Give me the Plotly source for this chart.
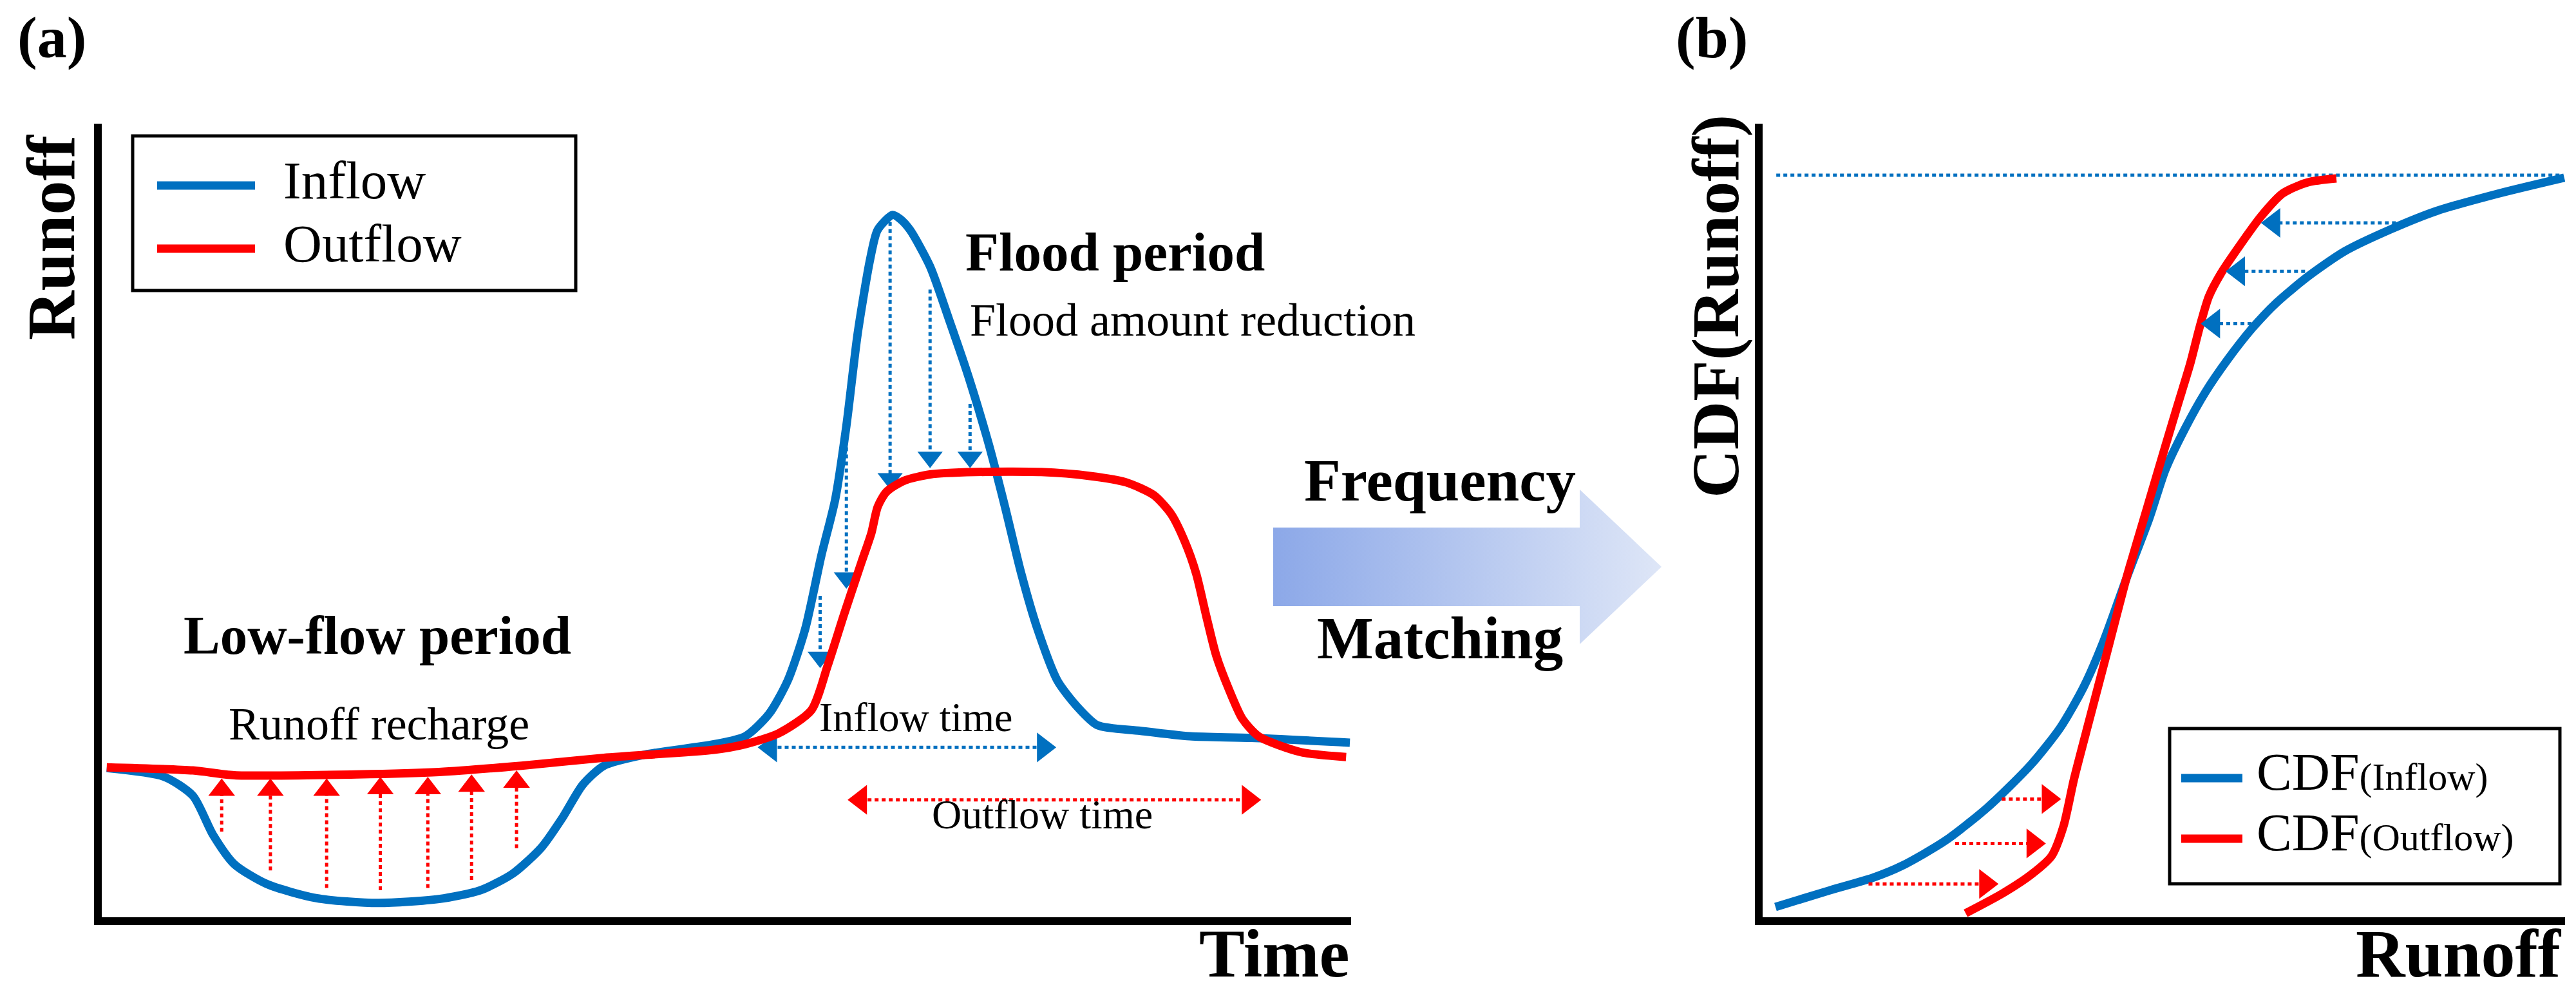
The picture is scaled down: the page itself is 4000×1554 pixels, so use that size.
import math
import plotly.graph_objects as go

W, H = 4000, 1554
BLUE = "#0070C0"
RED = "#FF0000"
FONT = "Liberation Serif"

# ---------------- Panel (a): hydrograph (time 0-100, runoff 0-100) ----------------
inflow_t = [0.4, 5.0, 7.3, 8.9, 10.6, 13.2, 17.2, 22.1, 27.0, 30.3, 32.9, 35.2, 36.9, 38.5, 40.2,
            43.5, 49.0, 51.5, 53.4, 54.9, 56.3, 57.6, 58.7, 59.6, 60.5, 61.5, 62.1, 63.3, 63.9,
            64.7, 66.3, 67.8, 69.4, 71.0, 72.3, 73.6, 74.9, 76.5, 78.1, 79.7, 83.1, 87.1, 92.0,
            99.9]
inflow_q = [18.8, 17.7, 15.3, 10.4, 6.7, 4.2, 2.4, 1.8, 2.3, 3.4, 5.5, 8.8, 12.6, 16.7, 19.1,
            20.5, 21.8, 22.8, 25.6, 29.8, 36.3, 45.6, 52.6, 61.9, 73.5, 82.9, 86.6, 88.5, 88.0,
            86.6, 82.0, 75.4, 68.0, 59.6, 51.7, 43.3, 36.3, 29.8, 26.5, 24.2, 23.5, 22.8, 22.6,
            22.0]

outflow_t = [0.4, 7.3, 10.6, 20.4, 27.0, 33.6, 40.2, 49.0, 51.5, 54.2, 56.8, 58.1, 59.4, 60.8,
             61.6, 62.1, 62.8, 64.2, 66.3, 69.9, 75.2, 79.1, 82.0, 84.2, 85.6, 86.7, 87.6, 88.4,
             89.2, 90.2, 91.3, 92.6, 96.0, 99.6]
outflow_q = [18.9, 18.5, 17.9, 18.0, 18.3, 19.1, 20.1, 21.1, 21.8, 23.2, 26.1, 31.7, 38.1, 44.7,
             48.4, 51.7, 53.6, 55.0, 55.8, 56.1, 56.1, 55.6, 54.8, 53.2, 50.8, 47.3, 43.3, 38.0,
             33.0, 28.8, 25.0, 22.8, 20.8, 20.2]

# runoff recharge arrows (upward, red)
recharge_t = [9.6, 13.5, 18.0, 22.3, 26.1, 29.6, 33.2]
recharge_from = [10.8, 5.9, 3.7, 3.4, 3.7, 4.7, 8.7]
recharge_to = [17.5, 17.5, 17.5, 17.7, 17.7, 18.0, 18.5]

# flood amount reduction arrows (downward, blue)
reduction_t = [57.5, 59.6, 63.1, 66.3, 69.5]
reduction_from = [40.5, 60.1, 87.6, 79.1, 64.7]
reduction_to = [31.4, 41.4, 53.9, 56.6, 56.6]

# duration arrows
inflow_time = {"q": 21.4, "t0": 52.5, "t1": 76.4}
outflow_time = {"q": 14.8, "t0": 59.7, "t1": 92.8}

# ---------------- Panel (b): CDF (runoff 0-100, cdf 0-1) ----------------
cdf_in_x = [1.6, 8.4, 13.8, 17.4, 22.7, 28.1, 33.5, 37.1, 40.0, 42.5, 45.3, 48.2, 50.2, 52.6,
            55.2, 57.9, 61.0, 64.0, 67.9, 72.5, 78.3, 84.0, 91.7, 99.9]
cdf_in_y = [0.013, 0.034, 0.050, 0.065, 0.096, 0.139, 0.193, 0.239, 0.290, 0.348, 0.426, 0.503,
            0.564, 0.615, 0.662, 0.702, 0.742, 0.774, 0.807, 0.839, 0.867, 0.890, 0.912, 0.932]
cdf_out_x = [25.3, 29.9, 33.5, 36.0, 37.5, 38.8, 40.7, 42.8, 45.3, 47.8, 50.2, 51.8, 53.3, 54.5,
             55.6, 57.1, 59.5, 62.1, 64.8, 67.9, 71.5]
cdf_out_y = [0.005, 0.030, 0.054, 0.077, 0.115, 0.174, 0.248, 0.329, 0.426, 0.512, 0.594, 0.648,
             0.698, 0.745, 0.782, 0.811, 0.847, 0.883, 0.912, 0.926, 0.931]
cdf_top = {"y": 0.935, "x0": 1.7, "x1": 99.5}

match_down_y = [0.875, 0.814, 0.748]
match_down_from = [79.8, 67.6, 61.8]
match_down_to = [62.1, 57.7, 54.6]
match_up_y = [0.149, 0.093, 0.042]
match_up_from = [29.8, 24.0, 13.2]
match_up_to = [37.2, 35.3, 29.4]

# ---------------- layout geometry (pixels) ----------------
A_X = (150, 2090)
B_X = (2729, 3975)
Y_PX = (1416, 184)  # bottom, top

def dom_x(a, b):
    return [a / W, b / W]

def dom_y(bottom, top):
    return [1 - bottom / H, 1 - top / H]

def px(x):
    return x / W

def py(y):
    return 1 - y / H

# pixels per data unit
SA_X = (A_X[1] - A_X[0]) / 100.0
SA_Y = (Y_PX[0] - Y_PX[1]) / 100.0
SB_X = (B_X[1] - B_X[0]) / 100.0
SB_Y = (Y_PX[0] - Y_PX[1]) / 1.0

fig = go.Figure()

def line(x, y, color, xa, ya, width=13, dash="solid", shape="spline"):
    ln = dict(color=color, width=width, dash=dash, shape=shape)
    if shape == "spline":
        ln["smoothing"] = 0.7
    fig.add_trace(go.Scatter(x=x, y=y, mode="lines", xaxis=xa, yaxis=ya, line=ln,
                             hoverinfo="skip", showlegend=False))

def head(xt, yt, ux, uy, color, xa, ya, sx, sy, size):
    r = size / 2.0
    cx = xt - ux * r / sx
    cy = yt - uy * r / sy
    if abs(ux) > abs(uy):
        sym = "triangle-right" if ux > 0 else "triangle-left"
    else:
        sym = "triangle-up" if uy > 0 else "triangle-down"
    fig.add_trace(go.Scatter(x=[cx], y=[cy], mode="markers", xaxis=xa, yaxis=ya,
                             marker=dict(symbol=sym, size=size, color=color, line=dict(width=0)),
                             cliponaxis=False, hoverinfo="skip", showlegend=False))
    return cx, cy

def arrow(x0, y0, x1, y1, color, xa, ya, sx, sy, size, both=False, dash="6px,5px", width=5):
    dxp = (x1 - x0) * sx
    dyp = (y1 - y0) * sy
    L = math.hypot(dxp, dyp)
    ux, uy = dxp / L, dyp / L
    cx1, cy1 = head(x1, y1, ux, uy, color, xa, ya, sx, sy, size)
    sx0, sy0 = x0, y0
    if both:
        sx0, sy0 = head(x0, y0, -ux, -uy, color, xa, ya, sx, sy, size)
    line([sx0, cx1], [sy0, cy1], color, xa, ya, width=width, dash=dash, shape="linear")

# ---- panel (a)
for t, f, to in zip(recharge_t, recharge_from, recharge_to):
    arrow(t, f, t, to, RED, "x", "y", SA_X, SA_Y, 36)
for t, f, to in zip(reduction_t, reduction_from, reduction_to):
    arrow(t, f, t, to, BLUE, "x", "y", SA_X, SA_Y, 34)
arrow(inflow_time["t0"], inflow_time["q"], inflow_time["t1"], inflow_time["q"], BLUE,
      "x", "y", SA_X, SA_Y, 40, both=True)
arrow(outflow_time["t0"], outflow_time["q"], outflow_time["t1"], outflow_time["q"], RED,
      "x", "y", SA_X, SA_Y, 40, both=True)
line(inflow_t, inflow_q, BLUE, "x", "y")
line(outflow_t, outflow_q, RED, "x", "y")

# ---- panel (b)
line([cdf_top["x0"], cdf_top["x1"]], [cdf_top["y"], cdf_top["y"]], BLUE, "x2", "y2",
     width=5, dash="6px,5px", shape="linear")
line(cdf_in_x, cdf_in_y, BLUE, "x2", "y2")
line(cdf_out_x, cdf_out_y, RED, "x2", "y2")
for yv, f, to in zip(match_down_y, match_down_from, match_down_to):
    arrow(f, yv, to, yv, BLUE, "x2", "y2", SB_X, SB_Y, 40)
for yv, f, to in zip(match_up_y, match_up_from, match_up_to):
    arrow(f, yv, to, yv, RED, "x2", "y2", SB_X, SB_Y, 40)

# ---- central gradient arrow (overlay axis in pixel units)
arrow_body = {"x0": 1969, "x1": 2445, "top": 811, "bottom": 933}
arrow_tip = {"x": 2572, "top": 752, "bottom": 992}
ax_ = [arrow_body["x0"], arrow_body["x1"], arrow_body["x1"], arrow_tip["x"], arrow_body["x1"],
       arrow_body["x1"], arrow_body["x0"], arrow_body["x0"]]
mid = (arrow_tip["top"] + arrow_tip["bottom"]) / 2
ay_ = [arrow_body["top"], arrow_body["top"], arrow_tip["top"], mid, arrow_tip["bottom"],
       arrow_body["bottom"], arrow_body["bottom"], arrow_body["top"]]
fig.add_trace(go.Scatter(x=ax_, y=ay_, mode="lines", fill="toself", xaxis="x3", yaxis="y3",
                         line=dict(width=0, color="rgba(0,0,0,0)"),
                         fillgradient=dict(type="horizontal",
                                           colorscale=[[0, "rgb(140,168,232)"],
                                                       [1, "rgb(222,230,247)"]]),
                         hoverinfo="skip", showlegend=False))

axis_common = dict(showgrid=False, zeroline=False, showticklabels=False, ticks="",
                   showline=True, linewidth=12, linecolor="black", fixedrange=True)

fig.update_layout(
    width=W, height=H, margin=dict(l=0, r=0, t=0, b=0),
    paper_bgcolor="white", plot_bgcolor="rgba(0,0,0,0)",
    xaxis=dict(domain=dom_x(*A_X), range=[0, 100], anchor="y", **axis_common),
    yaxis=dict(domain=dom_y(*Y_PX), range=[0, 100], anchor="x", **axis_common),
    xaxis2=dict(domain=dom_x(*B_X), range=[0, 100], anchor="y2", **axis_common),
    yaxis2=dict(domain=dom_y(*Y_PX), range=[0, 1], anchor="x2", **axis_common),
    xaxis3=dict(domain=[0, 1], range=[0, W], anchor="y3", visible=False, fixedrange=True),
    yaxis3=dict(domain=[0, 1], range=[H, 0], anchor="x3", visible=False, fixedrange=True),
    showlegend=False,
)

# legends (drawn manually)
shapes = []
for (x0, y0, x1, y1) in [(198, 203, 886, 443), (3361, 1123, 3967, 1364)]:
    shapes.append(dict(type="rect", xref="paper", yref="paper", x0=px(x0), x1=px(x1),
                       y0=py(y1), y1=py(y0), line=dict(color="black", width=5),
                       fillcolor="rgba(0,0,0,0)"))
for (x0, x1, yy, c) in [(236, 388, 280, BLUE), (236, 388, 378, RED),
                        (3379, 3474, 1200, BLUE), (3379, 3474, 1294, RED)]:
    shapes.append(dict(type="line", xref="paper", yref="paper", x0=px(x0), x1=px(x1),
                       y0=py(yy), y1=py(yy), line=dict(color=c, width=13)))
fig.update_layout(shapes=shapes)

def text(s, x, y, size, bold=False, xanchor="center", angle=0):
    fig.add_annotation(text=s, x=px(x), y=py(y), xref="paper", yref="paper",
                       xanchor=xanchor, yanchor="middle", showarrow=False, textangle=angle,
                       font=dict(family=FONT, size=size, color="black",
                                 weight="bold" if bold else "normal"))

text("(a)", 72, 50, 92, bold=True)
text("(b)", 2650, 50, 92, bold=True)
text("Runoff", 72, 360, 106, bold=True, angle=-90)
text("Time", 2090, 1472, 106, bold=True, xanchor="right")
text("CDF(Runoff)", 2656, 468, 104, bold=True, angle=-90)
text("Runoff", 3972, 1472, 106, bold=True, xanchor="right")
text("Inflow", 430, 272, 83, xanchor="left")
text("Outflow", 430, 370, 83, xanchor="left")
text("Low-flow period", 578, 978, 85, bold=True)
text("Runoff recharge", 580, 1116, 72)
text("Flood period", 1489, 383, 85, bold=True, xanchor="left")
text("Flood amount reduction", 1496, 489, 72, xanchor="left")
text("Inflow time", 1414, 1105, 64)
text("Outflow time", 1610, 1256, 64)
text("Frequency", 2228, 737, 93, bold=True)
text("Matching", 2228, 982, 93, bold=True)
text("CDF<span style='font-size:60px'>(Inflow)</span>", 3494, 1190, 82, xanchor="left")
text("CDF<span style='font-size:60px'>(Outflow)</span>", 3494, 1284, 82, xanchor="left")

fig.write_html("out.html")
